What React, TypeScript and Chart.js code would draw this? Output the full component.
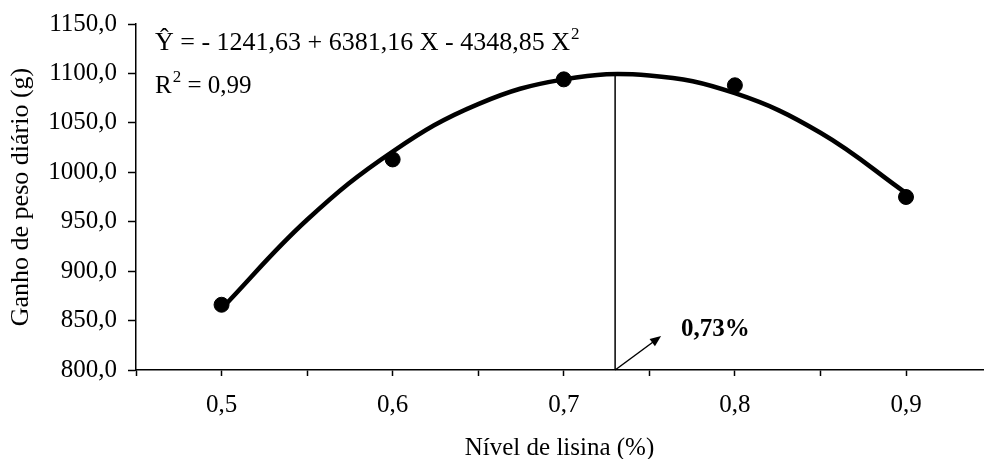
import React, { useEffect, useRef } from "react";
import { Chart, registerables } from "chart.js";

Chart.register(...registerables);

// Observed means
const lysineLevels = [0.5, 0.6, 0.7, 0.8, 0.9];
const dailyGain = [866, 1013, 1094, 1088, 975];

// Fitted quadratic trend
const curveX = [0.5, 0.55, 0.6, 0.65, 0.7, 0.75, 0.8, 0.85, 0.9];
const curveY = [862, 952, 1021, 1069, 1094, 1098, 1080, 1040, 979];

// Optimum marker
const optimumX = 0.73;
const optimumTopY = 1099;
const optimumLabel = "0,73%";

const xTickValues = [0.45, 0.5, 0.55, 0.6, 0.65, 0.7, 0.75, 0.8, 0.85, 0.9];
const xLabelValues = [0.5, 0.6, 0.7, 0.8, 0.9];
const yMin = 800;
const yMax = 1150;
const yStep = 50;

const equationMain = "Ŷ = - 1241,63 + 6381,16 X - 4348,85 X";
const equationSup = "2";
const r2Main = "R";
const r2Rest = " = 0,99";

const xTitle = "Nível de lisina (%)";
const yTitle = "Ganho de peso diário (g)";

const FONT = "'Liberation Serif', 'Times New Roman', serif";

const annotationPlugin = {
  id: "annot",
  afterDatasetsDraw(chart: any) {
    const { ctx, chartArea, scales } = chart;
    const xs = scales.x;
    const ys = scales.y;
    ctx.save();
    ctx.fillStyle = "#000";
    ctx.strokeStyle = "#000";
    // equation
    ctx.textBaseline = "alphabetic";
    ctx.textAlign = "left";
    ctx.font = `26px ${FONT}`;
    const ex = chartArea.left + 19;
    const ey = chartArea.top + 26;
    ctx.fillText(equationMain, ex, ey);
    const w = ctx.measureText(equationMain).width;
    ctx.font = `17px ${FONT}`;
    ctx.fillText(equationSup, ex + w + 1, ey - 11);
    ctx.font = `25px ${FONT}`;
    const ry = chartArea.top + 69;
    ctx.fillText(r2Main, ex, ry);
    const rw = ctx.measureText(r2Main).width;
    ctx.font = `17px ${FONT}`;
    ctx.fillText("2", ex + rw + 1, ry - 11);
    const sw = ctx.measureText("2").width;
    ctx.font = `25px ${FONT}`;
    ctx.fillText(r2Rest, ex + rw + sw + 1, ry);

    // arrow
    const ax = xs.getPixelForValue(optimumX);
    const ay = ys.getPixelForValue(yMin);
    const tx = ax + 46;
    const ty = ay - 34;
    ctx.lineWidth = 1.5;
    ctx.beginPath();
    ctx.moveTo(ax, ay);
    ctx.lineTo(tx - 6, ty + 4.5);
    ctx.stroke();
    const ang = Math.atan2(ty - ay, tx - ax);
    const hl = 11;
    const hw = 4.5;
    ctx.beginPath();
    ctx.moveTo(tx, ty);
    ctx.lineTo(
      tx - hl * Math.cos(ang) + hw * Math.sin(ang),
      ty - hl * Math.sin(ang) - hw * Math.cos(ang)
    );
    ctx.lineTo(
      tx - hl * Math.cos(ang) - hw * Math.sin(ang),
      ty - hl * Math.sin(ang) + hw * Math.cos(ang)
    );
    ctx.closePath();
    ctx.fill();

    ctx.font = `bold 25px ${FONT}`;
    ctx.textBaseline = "middle";
    ctx.fillText(optimumLabel, tx + 20, ty - 6);
    ctx.restore();
  },
};

export default function App() {
  const ref = useRef<HTMLCanvasElement>(null);
  useEffect(() => {
    if (!ref.current) return;
    const chart = new Chart(ref.current, {
      type: "line",
      data: {
        datasets: [
          {
            type: "line",
            data: curveX.map((x, i) => ({ x, y: curveY[i] })),
            borderColor: "#000",
            borderWidth: 4.5,
            pointRadius: 0,
            tension: 0.4,
            fill: false,
          },
          {
            type: "line",
            data: [
              { x: optimumX, y: yMin },
              { x: optimumX, y: optimumTopY },
            ],
            borderColor: "#000",
            borderWidth: 1.5,
            pointRadius: 0,
            fill: false,
          },
          {
            type: "scatter",
            data: lysineLevels.map((x, i) => ({ x, y: dailyGain[i] })),
            backgroundColor: "#000",
            borderColor: "#000",
            pointRadius: 7.5,
            showLine: false,
          } as any,
        ],
      },
      options: {
        animation: false,
        responsive: false,
        layout: { autoPadding: false, padding: { top: 24, right: 1, left: 0, bottom: 0 } },
        plugins: { legend: { display: false }, tooltip: { enabled: false } },
        scales: {
          x: {
            type: "linear",
            min: 0.45,
            max: 0.945,
            afterBuildTicks: (s: any) => {
              s.ticks = xTickValues.map((v) => ({ value: v }));
            },
            afterFit: (s: any) => {
              s.height = 89;
              s.paddingLeft = 0;
              s.paddingRight = 0;
            },
            ticks: {
              autoSkip: false,
              maxRotation: 0,
              padding: 14,
              color: "#000",
              font: { family: FONT, size: 25 },
              callback: (v: any) => {
                const n = Number(v);
                return xLabelValues.some((l) => Math.abs(l - n) < 1e-6)
                  ? n.toFixed(1).replace(".", ",")
                  : "";
              },
            },
            grid: {
              drawOnChartArea: false,
              drawTicks: true,
              tickLength: 6,
              tickColor: "#000",
              tickWidth: 1.5,
            },
            border: { color: "#000", width: 1.5 },
            title: {
              display: true,
              text: xTitle,
              color: "#000",
              font: { family: FONT, size: 25 },
              padding: { top: 0, bottom: -4 },
            },
          },
          y: {
            type: "linear",
            min: yMin,
            max: yMax,
            afterFit: (s: any) => {
              s.width = 136;
              s.paddingTop = 0;
              s.paddingBottom = 0;
            },
            ticks: {
              stepSize: yStep,
              padding: 11,
              color: "#000",
              font: { family: FONT, size: 25 },
              callback: (v: any) => Number(v).toFixed(1).replace(".", ","),
            },
            grid: {
              drawOnChartArea: false,
              drawTicks: true,
              tickLength: 8,
              tickColor: "#000",
              tickWidth: 1.5,
            },
            border: { color: "#000", width: 1.5 },
            title: {
              display: true,
              text: yTitle,
              color: "#000",
              font: { family: FONT, size: 26 },
              padding: { top: 6, bottom: 4 },
            },
          },
        },
      },
      plugins: [annotationPlugin],
    });
    return () => chart.destroy();
  }, []);
  return (
    <div style={{ position: "absolute", left: 0, top: 0, width: 984, height: 459 }}>
      <canvas ref={ref} width={984} height={459} style={{ width: 984, height: 459 }} />
    </div>
  );
}
